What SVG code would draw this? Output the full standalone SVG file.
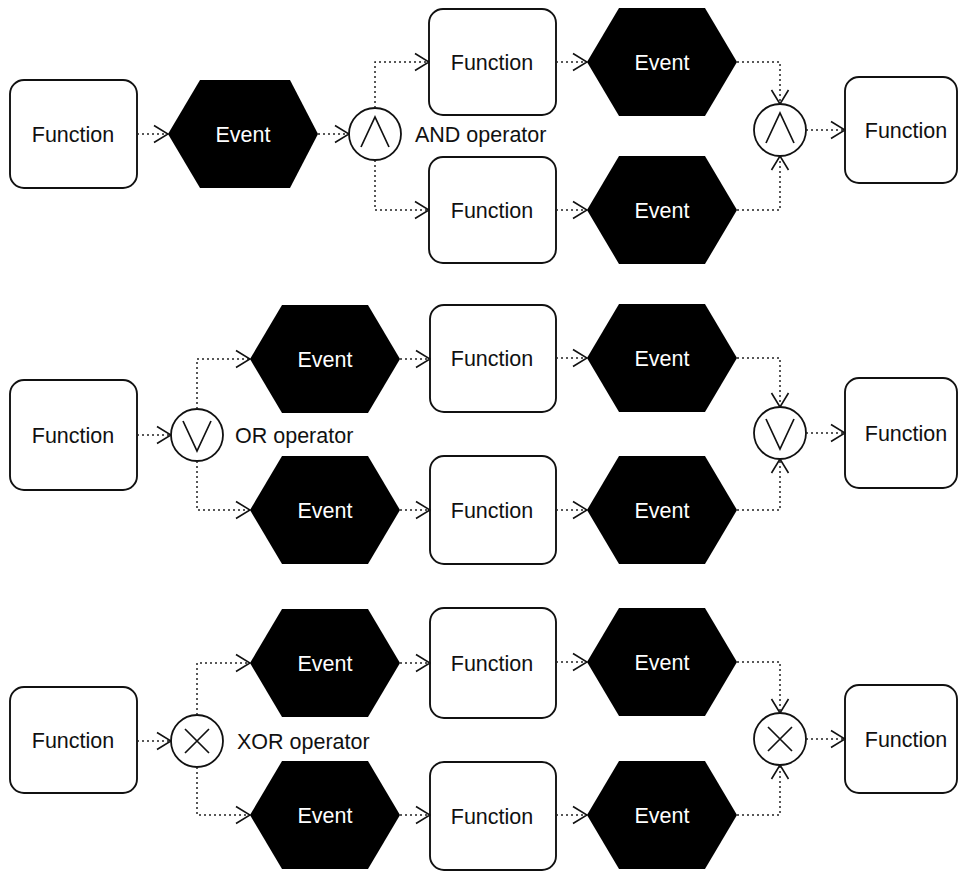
<svg xmlns="http://www.w3.org/2000/svg" width="961" height="873" viewBox="0 0 961 873">
  <style>
    .fn rect { fill: #ffffff; stroke: #111111; stroke-width: 1.9; }
    .fn text { fill: #111111; }
    .ev polygon { fill: #000000; stroke: none; }
    .ev text { fill: #ffffff; }
    text { font-family: "Liberation Sans", Arial, sans-serif; font-size: 21.5px; text-anchor: middle; }
    .lbl { text-anchor: start; fill: #111111; }
    .op circle { fill: #ffffff; stroke: #111111; stroke-width: 1.8; }
    .op path { fill: none; stroke: #111111; stroke-width: 1.7; }
    .conn path { fill: none; stroke: #222222; stroke-width: 1.5; stroke-dasharray: 2 3; marker-end: url(#chev); }
  </style>
  <defs>
    <marker id="chev" viewBox="0 0 16 20" refX="15" refY="10" markerWidth="16" markerHeight="20" markerUnits="userSpaceOnUse" orient="auto">
      <path d="M1,1.5 L15,10 L1,18.5" fill="none" stroke="#111111" stroke-width="1.6"/>
    </marker>
  </defs>

  <!-- ===== AND row ===== -->
  <g id="and-fn-in" class="fn"><rect x="10" y="80" width="127" height="108" rx="14"/><text x="73" y="142">Function</text></g>
  <g id="and-ev-in" class="ev"><polygon points="168,134 200,80 290,80 318,134 290,188 200,188"/><text x="243" y="142">Event</text></g>
  <g id="and-split" class="op"><circle cx="375" cy="134" r="26"/><path d="M361,147 L375,117 L389,147"/></g>
  <text id="and-label" class="lbl" x="415" y="142">AND operator</text>
  <g id="and-fn-a" class="fn"><rect x="429" y="9" width="127" height="106" rx="14"/><text x="492" y="70">Function</text></g>
  <g id="and-fn-b" class="fn"><rect x="429" y="157" width="127" height="106" rx="14"/><text x="492" y="218">Function</text></g>
  <g id="and-ev-a" class="ev"><polygon points="587,62 619,8 705,8 737,62 705,116 619,116"/><text x="662" y="70">Event</text></g>
  <g id="and-ev-b" class="ev"><polygon points="587,210 619,156 705,156 737,210 705,264 619,264"/><text x="662" y="218">Event</text></g>
  <g id="and-join" class="op"><circle cx="780" cy="130" r="26"/><path d="M766,143 L780,113 L794,143"/></g>
  <g id="and-fn-out" class="fn"><rect x="845" y="77" width="112" height="106" rx="14"/><text x="906" y="138">Function</text></g>

  <!-- ===== OR row ===== -->
  <g id="or-fn-in" class="fn"><rect x="10" y="380" width="127" height="110" rx="14"/><text x="73" y="443">Function</text></g>
  <g id="or-split" class="op"><circle cx="197" cy="435" r="26"/><path d="M183,421 L197,451 L211,421"/></g>
  <text id="or-label" class="lbl" x="235" y="443">OR operator</text>
  <g id="or-ev-a" class="ev"><polygon points="250,359 282,305 368,305 400,359 368,413 282,413"/><text x="325" y="367">Event</text></g>
  <g id="or-ev-b" class="ev"><polygon points="250,510 282,456 368,456 400,510 368,564 282,564"/><text x="325" y="518">Event</text></g>
  <g id="or-fn-a" class="fn"><rect x="430" y="305" width="126" height="107" rx="14"/><text x="492" y="366">Function</text></g>
  <g id="or-fn-b" class="fn"><rect x="430" y="456" width="126" height="108" rx="14"/><text x="492" y="518">Function</text></g>
  <g id="or-ev-c" class="ev"><polygon points="587,358 619,304 705,304 737,358 705,412 619,412"/><text x="662" y="366">Event</text></g>
  <g id="or-ev-d" class="ev"><polygon points="587,510 619,456 705,456 737,510 705,564 619,564"/><text x="662" y="518">Event</text></g>
  <g id="or-join" class="op"><circle cx="780" cy="433" r="26"/><path d="M766,419 L780,449 L794,419"/></g>
  <g id="or-fn-out" class="fn"><rect x="845" y="378" width="112" height="110" rx="14"/><text x="906" y="441">Function</text></g>

  <!-- ===== XOR row ===== -->
  <g id="xor-fn-in" class="fn"><rect x="10" y="687" width="127" height="106" rx="14"/><text x="73" y="748">Function</text></g>
  <g id="xor-split" class="op"><circle cx="197" cy="741" r="26"/><path d="M185,729 L209,753 M209,729 L185,753"/></g>
  <text id="xor-label" class="lbl" x="237" y="749">XOR operator</text>
  <g id="xor-ev-a" class="ev"><polygon points="250,663 282,609 368,609 400,663 368,717 282,717"/><text x="325" y="671">Event</text></g>
  <g id="xor-ev-b" class="ev"><polygon points="250,815 282,761 368,761 400,815 368,869 282,869"/><text x="325" y="823">Event</text></g>
  <g id="xor-fn-a" class="fn"><rect x="430" y="608" width="126" height="110" rx="14"/><text x="492" y="671">Function</text></g>
  <g id="xor-fn-b" class="fn"><rect x="430" y="762" width="126" height="108" rx="14"/><text x="492" y="824">Function</text></g>
  <g id="xor-ev-c" class="ev"><polygon points="587,662 619,608 705,608 737,662 705,716 619,716"/><text x="662" y="670">Event</text></g>
  <g id="xor-ev-d" class="ev"><polygon points="587,815 619,761 705,761 737,815 705,869 619,869"/><text x="662" y="823">Event</text></g>
  <g id="xor-join" class="op"><circle cx="780" cy="739" r="26"/><path d="M768,727 L792,751 M792,727 L768,751"/></g>
  <g id="xor-fn-out" class="fn"><rect x="845" y="685" width="112" height="108" rx="14"/><text x="906" y="747">Function</text></g>

  <!-- ===== control flow ===== -->
  <g id="connectors" class="conn">
    <!-- AND -->
    <path d="M137,134 H168"/>
    <path d="M318,134 H349"/>
    <path d="M375,108 V62 H429"/>
    <path d="M375,160 V210 H429"/>
    <path d="M556,62 H587"/>
    <path d="M556,210 H587"/>
    <path d="M737,62 H780 V104"/>
    <path d="M737,210 H780 V156"/>
    <path d="M806,130 H845"/>
    <!-- OR -->
    <path d="M137,435 H171"/>
    <path d="M197,409 V359 H250"/>
    <path d="M197,461 V510 H250"/>
    <path d="M400,359 H430"/>
    <path d="M400,510 H430"/>
    <path d="M556,358 H587"/>
    <path d="M556,510 H587"/>
    <path d="M737,358 H780 V407"/>
    <path d="M737,510 H780 V459"/>
    <path d="M806,433 H845"/>
    <!-- XOR -->
    <path d="M137,741 H171"/>
    <path d="M197,715 V663 H250"/>
    <path d="M197,767 V815 H250"/>
    <path d="M400,663 H430"/>
    <path d="M400,815 H430"/>
    <path d="M556,662 H587"/>
    <path d="M556,815 H587"/>
    <path d="M737,662 H780 V713"/>
    <path d="M737,815 H780 V765"/>
    <path d="M806,739 H845"/>
  </g>
</svg>
